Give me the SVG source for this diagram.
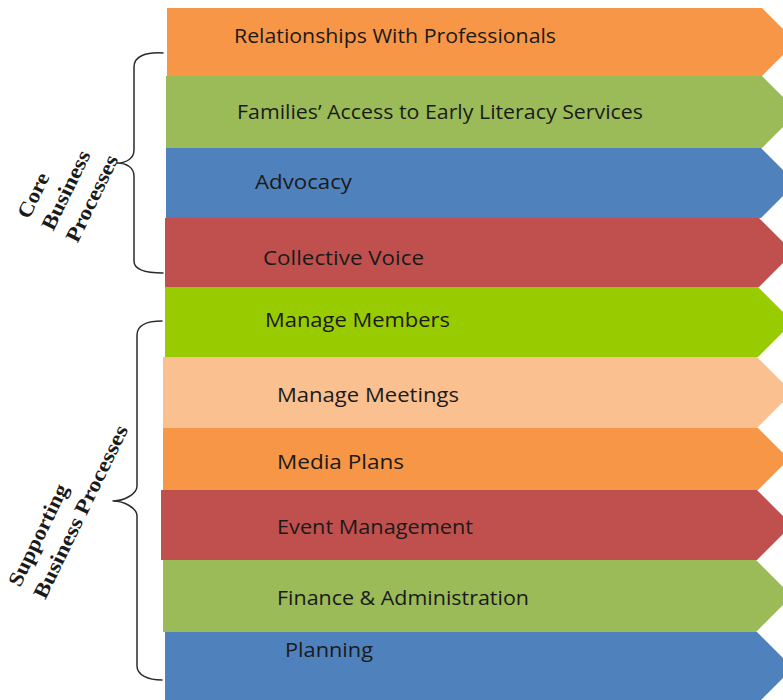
<svg xmlns="http://www.w3.org/2000/svg" width="783" height="700" viewBox="0 0 783 700">
  <style>
    .band-label { font-family: "Open Sans", "Liberation Sans", sans-serif; font-size: 19.5px; fill: #1a1a1a; }
    .group-label { font-family: "Liberation Serif", "DejaVu Serif", serif; font-size: 21px; font-weight: bold; fill: #1a1a1a; }
    .brace { fill: none; stroke: #2b2b2b; stroke-width: 1.5; stroke-linecap: round; stroke-linejoin: round; }
    .orange { fill: #F79646; }
    .green { fill: #9BBB59; }
    .blue { fill: #4F81BD; }
    .red { fill: #C0504D; }
    .lime { fill: #99CC00; }
    .peach { fill: #FAC090; }
  </style>
  <rect width="783" height="700" fill="#ffffff"/>

  <!-- Process bands: each is a right-pointing chevron -->
  <g id="relationships-with-professionals">
    <polygon class="orange" points="167,8 762,8 796,42 762,76 167,76"/>
    <text class="band-label" x="234" y="43" textLength="322" lengthAdjust="spacingAndGlyphs">Relationships With Professionals</text>
  </g>
  <g id="families-access">
    <polygon class="green" points="166,76 762,76 798,112 762,148 166,148"/>
    <text class="band-label" x="237" y="119" textLength="406" lengthAdjust="spacingAndGlyphs">Families’ Access to Early Literacy Services</text>
  </g>
  <g id="advocacy">
    <polygon class="blue" points="166,148 761,148 796,183 761,218 166,218"/>
    <text class="band-label" x="255" y="189" textLength="97" lengthAdjust="spacingAndGlyphs">Advocacy</text>
  </g>
  <g id="collective-voice">
    <polygon class="red" points="165,218 759,218 793.5,252.5 759,287 165,287"/>
    <text class="band-label" x="263" y="265" textLength="161" lengthAdjust="spacingAndGlyphs">Collective Voice</text>
  </g>
  <g id="manage-members">
    <polygon class="lime" points="165,287 758,287 793,322 758,357 165,357"/>
    <text class="band-label" x="265" y="327" textLength="185" lengthAdjust="spacingAndGlyphs">Manage Members</text>
  </g>
  <g id="manage-meetings">
    <polygon class="peach" points="163,357 757,357 792.5,392.5 757,428 163,428"/>
    <text class="band-label" x="277" y="402" textLength="182" lengthAdjust="spacingAndGlyphs">Manage Meetings</text>
  </g>
  <g id="media-plans">
    <polygon class="orange" points="163,428 758,428 789,459 758,490 163,490"/>
    <text class="band-label" x="277" y="469" textLength="127" lengthAdjust="spacingAndGlyphs">Media Plans</text>
  </g>
  <g id="event-management">
    <polygon class="red" points="161,490 757,490 792,525 757,560 161,560"/>
    <text class="band-label" x="277" y="534" textLength="196" lengthAdjust="spacingAndGlyphs">Event Management</text>
  </g>
  <g id="finance-administration">
    <polygon class="green" points="163,560 756,560 792,596 756,632 163,632"/>
    <text class="band-label" x="277" y="605" textLength="252" lengthAdjust="spacingAndGlyphs">Finance &amp; Administration</text>
  </g>
  <g id="planning">
    <polygon class="blue" points="165,632 757,632 793,668 757,704 165,704"/>
    <text class="band-label" x="285" y="657" textLength="88" lengthAdjust="spacingAndGlyphs">Planning</text>
  </g>

  <!-- Braces grouping the bands -->
  <g id="braces">
    <path class="brace" d="M163,53 C146,52 134,56 134,67 L134,150 C134,158 127,163 117,163 C127,163 134,168 134,176 L134,261 C134,270 146,273 163,273"/>
    <path class="brace" d="M162,321 C148,321 137,325 137,335 L137,486 C137,494 124,501 113,501 C124,501 137,508 137,516 L137,666 C137,675 148,680 162,680"/>
  </g>

  <!-- Group captions -->
  <g id="core-label" transform="translate(29,220) rotate(-64)">
    <text class="group-label" x="0" y="0" textLength="48" lengthAdjust="spacingAndGlyphs">Core</text>
    <text class="group-label" x="0" y="27" textLength="86" lengthAdjust="spacingAndGlyphs">Business</text>
    <text class="group-label" x="0" y="54" textLength="94" lengthAdjust="spacingAndGlyphs">Processes</text>
  </g>
  <g id="supporting-label" transform="translate(20,588) rotate(-64)">
    <text class="group-label" x="0" y="0" textLength="111" lengthAdjust="spacingAndGlyphs">Supporting</text>
    <text class="group-label" x="0" y="28" textLength="190" lengthAdjust="spacingAndGlyphs">Business Processes</text>
  </g>
</svg>
